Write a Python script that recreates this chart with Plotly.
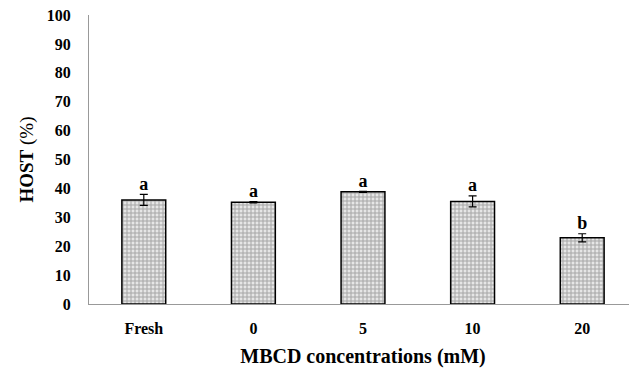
import plotly.graph_objects as go

categories = ["Fresh", "0", "5", "10", "20"]
host_values = [36.0, 35.2, 38.8, 35.5, 22.9]
host_errors = [1.9, 0.2, 0.2, 1.9, 1.4]
letters = ["a", "a", "a", "a", "b"]
y_ticks = [0, 10, 20, 30, 40, 50, 60, 70, 80, 90, 100]

FONT = "Liberation Serif"

fig = go.Figure()
fig.add_trace(go.Bar(
    x=categories,
    y=host_values,
    width=0.4,
    marker=dict(
        color="white",
        line=dict(color="black", width=1.5),
        pattern=dict(shape="+", fgcolor="#666666", bgcolor="#e6e6e6",
                     size=4, solidity=0.45, fillmode="overlay"),
    ),
    error_y=dict(type="data", array=host_errors, color="black",
                 thickness=1.2, width=4),
    showlegend=False,
))
fig.add_trace(go.Scatter(
    x=categories,
    y=[v + e for v, e in zip(host_values, host_errors)],
    mode="text",
    text=["<b>%s</b>" % t for t in letters],
    textposition="top center",
    textfont=dict(family=FONT, size=18, color="black"),
    cliponaxis=False,
    showlegend=False,
))

fig.update_layout(
    width=629, height=361,
    margin=dict(l=81, r=0, t=7, b=65),
    plot_bgcolor="white", paper_bgcolor="white",
    font=dict(family=FONT, color="black"),
    xaxis=dict(
        automargin=False,
        showline=True, linecolor="#999999", linewidth=1,
        ticks="", showgrid=False,
        ticklabelstandoff=10,
        tickfont=dict(family=FONT, size=16, color="black", weight="bold"),
        title=dict(text="<b>MBCD concentrations (mM)</b>",
                   font=dict(family=FONT, size=20, color="black"), standoff=12),
    ),
    yaxis=dict(
        automargin=False,
        range=[0, 100], tickvals=y_ticks,
        ticklabeloverflow="allow",
        showline=True, linecolor="#999999", linewidth=1,
        ticks="", showgrid=False, zeroline=False,
        ticklabelstandoff=14,
        tickfont=dict(family=FONT, size=16, color="black", weight="bold"),
        title=dict(text="<b>HOST</b> (%)",
                   font=dict(family=FONT, size=19, color="black"), standoff=8),
    ),
)

fig.write_html("out.html")
